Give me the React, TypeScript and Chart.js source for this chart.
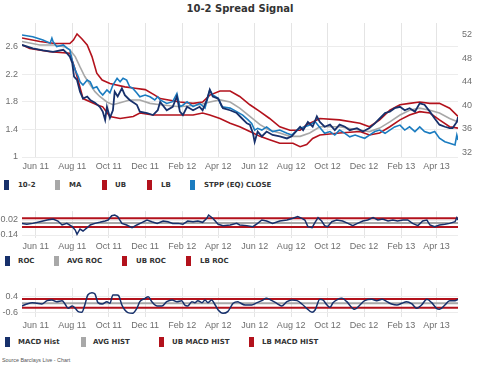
import React, { useEffect, useRef } from "react";
import { Chart, registerables } from "chart.js";
Chart.register(...registerables);

// ---------- categories / ticks (x = days since 2011-05-09) ----------
const tickDays = [23, 84, 145, 206, 268, 328, 389, 450, 511, 572, 634, 693];
const tickLabels = ["Jun 11", "Aug 11", "Oct 11", "Dec 11", "Feb 12", "Apr 12", "Jun 12", "Aug 12", "Oct 12", "Dec 12", "Feb 13", "Apr 13"];
const DAY_MIN = 0;
const DAY_MAX = 729;

// ---------- top panel ----------
const spreadDays = [0,18,35,52,69,75,80,84,87,92,97,102,109,114,122,130,135,139,142,147,152,155,160,167,172,180,192,197,209,219,227,231,242,252,259,264,269,276,286,297,302,309,314,319,328,336,348,359,368,376,381,386,389,394,401,409,419,431,443,451,460,465,470,478,486,493,498,506,515,523,531,540,548,560,570,581,590,598,607,615,623,632,640,648,657,665,673,682,690,698,707,715,720,727,729];
const spreadValues = [2.63,2.58,2.55,2.53,2.56,2.51,2.46,2.37,2.17,2.12,1.95,1.85,1.88,1.83,1.79,1.73,1.66,1.54,1.73,1.57,1.68,1.95,1.88,2.0,1.9,1.83,1.76,1.66,1.64,1.61,1.68,1.8,1.68,1.73,1.88,1.66,1.61,1.73,1.68,1.73,1.68,1.83,1.98,1.88,1.85,1.71,1.68,1.64,1.56,1.49,1.47,1.35,1.22,1.37,1.3,1.37,1.32,1.3,1.27,1.3,1.39,1.44,1.39,1.51,1.44,1.59,1.51,1.44,1.47,1.39,1.47,1.44,1.39,1.42,1.37,1.42,1.49,1.56,1.64,1.66,1.71,1.73,1.68,1.71,1.66,1.78,1.76,1.66,1.56,1.47,1.44,1.42,1.42,1.51,1.58];

const maDays = [0,30,55,72,80,89,97,105,114,122,130,142,152,164,180,197,214,231,264,297,314,331,348,364,381,398,414,431,448,465,481,498,531,565,581,598,615,632,648,665,682,698,715,729];
const maValues = [2.68,2.63,2.63,2.6,2.56,2.46,2.31,2.17,2.05,1.95,1.88,1.8,1.76,1.79,1.83,1.83,1.78,1.76,1.73,1.76,1.8,1.83,1.8,1.71,1.59,1.47,1.39,1.35,1.3,1.3,1.35,1.44,1.44,1.39,1.37,1.42,1.51,1.61,1.68,1.71,1.68,1.64,1.56,1.51];

const ubDays = [0,30,55,80,86,92,100,109,117,125,134,147,172,189,206,222,231,264,286,302,314,331,348,364,381,398,414,431,448,465,476,486,498,531,565,581,598,615,632,648,665,682,698,715,729];
const ubValues = [2.73,2.68,2.65,2.65,2.7,2.79,2.72,2.63,2.46,2.22,2.12,2.07,2.02,2.0,1.98,1.9,1.85,1.8,1.78,1.8,1.9,1.96,1.96,1.88,1.76,1.66,1.56,1.44,1.39,1.39,1.47,1.51,1.56,1.54,1.49,1.44,1.54,1.68,1.76,1.78,1.8,1.78,1.78,1.71,1.59];

const lbDays = [0,13,47,80,89,102,125,135,147,164,186,197,219,231,252,286,302,314,331,348,364,381,398,414,431,453,465,476,486,498,531,565,581,598,615,632,648,665,682,698,715,729];
const lbValues = [2.63,2.58,2.53,2.51,2.27,1.85,1.76,1.73,1.59,1.56,1.59,1.64,1.61,1.61,1.61,1.61,1.64,1.61,1.56,1.49,1.44,1.37,1.3,1.25,1.2,1.2,1.15,1.18,1.27,1.32,1.35,1.37,1.32,1.35,1.44,1.54,1.61,1.66,1.64,1.54,1.44,1.42];

const stppDays = [0,18,35,47,50,52,58,69,75,80,85,89,94,97,102,109,114,119,125,130,135,142,147,152,159,164,169,175,180,185,192,197,206,214,222,227,231,242,252,259,264,269,276,286,297,306,311,314,319,328,334,348,359,369,378,384,389,394,401,409,419,431,443,451,460,465,473,481,490,498,506,515,523,531,540,548,557,565,573,581,590,598,607,615,623,632,640,648,657,665,673,682,690,698,707,715,724,727,729];
const stppValues = [52.0,51.7,51.15,50.6,51.45,50.85,50.0,50.3,49.8,49.45,47.2,46.0,44.9,44.0,43.45,44.3,44.0,42.9,43.15,42.3,41.75,42.6,42.1,43.45,44.6,44.0,44.6,44.3,43.15,42.9,42.1,41.45,41.75,41.45,40.9,41.45,40.9,40.3,40.6,42.0,39.75,40.0,40.6,39.75,40.3,39.5,41.45,42.6,41.75,41.2,39.75,39.5,38.9,38.3,37.5,36.9,35.75,36.05,35.75,36.3,35.5,35.75,35.2,34.9,35.75,36.05,36.3,36.6,37.2,36.2,35.2,35.5,34.9,35.75,35.2,34.6,34.9,34.6,34.35,34.9,35.5,35.75,35.2,35.75,36.3,36.6,35.75,36.3,35.5,36.3,35.5,35.2,35.5,34.35,33.75,33.5,33.2,34.9,34.05];

const leftTicks = [1, 1.4, 1.8, 2.2, 2.6];
const rightTicks = [32, 36, 40, 44, 48, 52];

// ---------- middle panel (ROC) ----------
const rocDays = [0,8,18,30,42,52,60,67,75,84,89,92,97,102,109,114,122,130,139,144,150,155,160,167,175,184,192,201,209,217,226,236,244,252,261,269,277,286,294,302,309,312,319,328,336,348,359,364,376,386,394,401,409,419,431,443,453,461,468,473,478,485,490,495,501,506,511,518,526,536,545,553,561,570,578,587,595,603,612,620,628,637,645,653,662,670,677,682,690,698,707,715,724,727,729];
const rocValues = [-0.016,-0.026,-0.016,0.002,0.02,0.031,0.009,-0.033,-0.016,-0.051,-0.087,-0.133,-0.076,-0.097,-0.062,-0.033,-0.016,-0.005,0.009,0.02,0.066,0.073,0.056,-0.016,-0.033,-0.062,-0.033,-0.005,0.02,0.002,-0.016,0.009,0.002,-0.016,-0.016,-0.026,0.009,0.002,0.009,-0.005,0.038,0.073,0.038,-0.026,-0.04,-0.033,-0.016,-0.033,-0.04,-0.051,-0.016,0.02,0.009,-0.016,0.009,0.02,0.038,0.056,0.038,0.02,-0.051,-0.062,-0.005,0.045,0.009,-0.04,-0.051,0.002,0.02,0.009,-0.016,-0.04,-0.016,0.009,0.02,0.045,0.02,0.031,0.009,0.02,0.009,0.02,0.02,-0.016,-0.04,0.009,0.02,-0.033,-0.051,-0.033,-0.026,-0.016,0.002,0.045,0.02];
const bandDays = [0, 729];
const avgRocValues = [-0.012, -0.012];
const ubRocValues = [0.04, 0.04];
const lbRocValues = [-0.055, -0.055];
const rocTicks = [-0.14, 0.02];

// ---------- bottom panel (MACD hist) ----------
const macdDays = [0,8,17,25,33,42,50,58,67,72,77,84,89,94,100,105,110,117,122,127,134,142,147,152,159,162,167,172,177,185,192,197,206,211,217,226,234,242,251,259,267,272,277,284,289,294,301,306,311,317,323,328,336,344,353,361,364,373,384,393,401,409,418,426,434,443,451,460,468,476,485,490,498,503,510,515,520,528,535,543,551,556,565,573,585,593,602,610,618,627,635,643,652,660,668,677,685,693,698,707,715,724,729];
const macdValues = [-0.195,-0.067,0.018,-0.024,-0.067,0.146,0.189,0.082,0.146,-0.067,-0.345,-0.195,-0.345,-0.558,-0.6,-0.131,0.509,0.658,0.573,0.018,-0.067,0.082,-0.024,0.509,0.509,0.445,-0.131,-0.451,-0.622,-0.664,-0.345,0.082,0.296,0.402,0.082,-0.195,-0.195,0.082,0.189,0.082,0.146,-0.131,-0.195,0.082,0.018,0.146,0.018,0.189,0.018,0.189,-0.131,-0.451,-0.664,-0.558,-0.024,0.082,0.018,-0.131,-0.131,0.018,0.146,0.296,0.146,-0.024,-0.195,0.082,0.189,0.146,-0.067,-0.345,-0.6,-0.451,0.232,0.189,-0.131,-0.28,0.018,0.232,0.296,0.082,-0.28,-0.409,-0.131,0.146,0.232,0.146,0.232,0.082,-0.067,-0.131,-0.024,0.082,-0.067,-0.345,-0.131,0.232,0.018,-0.345,-0.409,-0.131,0.146,0.146,0.232];
const avgHistValues = [-0.022, -0.022];
const ubHistValues = [0.253, 0.253];
const lbHistValues = [-0.304, -0.304];
const macdTicks = [-0.6, 0.4];

// ---------- styles ----------
const NAVY = "#17306b";
const GRAY = "#a8a8a8";
const RED = "#b3121c";
const BLUE = "#1b7cc0";
const TICK_FONT = { family: "'Liberation Sans', Arial, sans-serif", size: 9 };
const TICK_COLOR = "#6e6e6e";
const GRID = "#e4e4e4";
const LEGEND_FONT = "'DejaVu Sans', Verdana, sans-serif";

function pts(days: number[], vals: number[]) {
  const n = Math.min(days.length, vals.length);
  const out: { x: number; y: number }[] = [];
  for (let i = 0; i < n; i++) out.push({ x: days[i], y: vals[i] });
  return out;
}

function line(label: string, data: any, color: string, width: number, order: number, extra: any = {}) {
  return {
    label,
    data,
    borderColor: color,
    backgroundColor: color,
    borderWidth: width,
    pointRadius: 0,
    pointHoverRadius: 0,
    tension: 0,
    fill: false,
    order,
    ...extra,
  };
}

function xAxis(height: number, pad: number) {
  return {
    type: "linear",
    min: DAY_MIN,
    max: DAY_MAX,
    afterBuildTicks: (s: any) => {
      s.ticks = tickDays.map((v) => ({ value: v }));
    },
    afterFit: (s: any) => {
      s.height = height;
      s.paddingLeft = 0;
      s.paddingRight = 0;
    },
    ticks: {
      autoSkip: false,
      maxRotation: 0,
      minRotation: 0,
      padding: pad,
      font: TICK_FONT,
      color: TICK_COLOR,
      callback: (_v: any, i: number) => tickLabels[i],
    },
    grid: { color: GRID, drawTicks: false, lineWidth: 1 },
    border: { display: false },
  };
}

function yAxis(position: string, min: number, max: number, ticks: number[], width: number, showGrid: boolean) {
  return {
    type: "linear",
    position,
    min,
    max,
    afterBuildTicks: (s: any) => {
      s.ticks = ticks.map((v) => ({ value: v }));
    },
    afterFit: (s: any) => {
      s.width = width;
      s.paddingTop = 0;
      s.paddingBottom = 0;
    },
    ticks: {
      padding: 4,
      font: TICK_FONT,
      color: TICK_COLOR,
      callback: (v: any) => String(v),
    },
    grid: { display: showGrid, color: "#ececec", drawTicks: false },
    border: { display: false },
  };
}

function baseOptions(scales: any, padRight: number) {
  return {
    responsive: false,
    maintainAspectRatio: false,
    animation: false,
    devicePixelRatio: 1,
    events: [],
    layout: { padding: { left: 0, top: 0, bottom: 0, right: padRight } },
    plugins: { legend: { display: false }, tooltip: { enabled: false }, title: { display: false } },
    scales,
  };
}

function topConfig() {
  return {
    type: "line",
    data: {
      datasets: [
        line("10-2", pts(spreadDays, spreadValues), NAVY, 1.8, 1, { yAxisID: "y" }),
        line("STPP (EQ) CLOSE", pts(stppDays, stppValues), BLUE, 1.6, 2, { yAxisID: "y2" }),
        line("MA", pts(maDays, maValues), GRAY, 1.6, 3, { yAxisID: "y" }),
        line("UB", pts(ubDays, ubValues), RED, 1.6, 4, { yAxisID: "y" }),
        line("LB", pts(lbDays, lbValues), RED, 1.6, 5, { yAxisID: "y" }),
      ],
    },
    options: baseOptions(
      {
        x: xAxis(15, 4),
        y: yAxis("left", 1, 2.949, leftTicks, 22, true),
        y2: yAxis("right", 31.15, 54.05, rightTicks, 22, false),
      },
      0
    ),
  };
}

function rocConfig() {
  return {
    type: "line",
    data: {
      datasets: [
        line("ROC", pts(rocDays, rocValues), NAVY, 1.5, 1),
        line("AVG ROC", pts(bandDays, avgRocValues), GRAY, 2, 2),
        line("UB ROC", pts(bandDays, ubRocValues), RED, 2, 3),
        line("LB ROC", pts(bandDays, lbRocValues), RED, 2, 4),
      ],
    },
    options: baseOptions({ x: xAxis(14, 3), y: yAxis("left", -0.172, 0.116, rocTicks, 22, true) }, 22),
  };
}

function macdConfig() {
  return {
    type: "line",
    data: {
      datasets: [
        line("MACD Hist", pts(macdDays, macdValues), NAVY, 1.5, 1, { tension: 0.4, cubicInterpolationMode: "monotone" }),
        line("AVG HIST", pts(bandDays, avgHistValues), GRAY, 2, 2),
        line("UB MACD HIST", pts(bandDays, ubHistValues), RED, 2, 3),
        line("LB MACD HIST", pts(bandDays, lbHistValues), RED, 2, 4),
      ],
    },
    options: baseOptions({ x: xAxis(14, 3), y: yAxis("left", -0.901, 0.958, macdTicks, 22, true) }, 22),
  };
}

function ChartCanvas({ top, height, config }: { top: number; height: number; config: () => any }) {
  const ref = useRef<HTMLCanvasElement | null>(null);
  useEffect(() => {
    if (!ref.current) return;
    const chart = new Chart(ref.current, config());
    return () => chart.destroy();
  }, []);
  return (
    <canvas
      ref={ref}
      width={480}
      height={height}
      style={{ position: "absolute", left: 0, top, width: 480, height, display: "block" }}
    />
  );
}

type LegendItem = { label: string; color: string; marker: number; text: number };

const legendRows: { top: number; items: LegendItem[] }[] = [
  {
    top: 185,
    items: [
      { label: "10-2", color: NAVY, marker: 4, text: 18 },
      { label: "MA", color: GRAY, marker: 55, text: 69 },
      { label: "UB", color: RED, marker: 102, text: 115 },
      { label: "LB", color: RED, marker: 147, text: 161 },
      { label: "STPP (EQ) CLOSE", color: BLUE, marker: 190, text: 204 },
    ],
  },
  {
    top: 261,
    items: [
      { label: "ROC", color: NAVY, marker: 5, text: 18 },
      { label: "AVG ROC", color: GRAY, marker: 54, text: 67 },
      { label: "UB ROC", color: RED, marker: 122, text: 136 },
      { label: "LB ROC", color: RED, marker: 186, text: 200 },
    ],
  },
  {
    top: 342,
    items: [
      { label: "MACD Hist", color: NAVY, marker: 5, text: 18 },
      { label: "AVG HIST", color: GRAY, marker: 81, text: 93 },
      { label: "UB MACD HIST", color: RED, marker: 159, text: 172 },
      { label: "LB MACD HIST", color: RED, marker: 249, text: 262 },
    ],
  },
];

export default function App() {
  return (
    <div style={{ position: "absolute", left: 0, top: 0, width: 480, height: 368, background: "#fff", overflow: "hidden" }}>
      <div
        style={{
          position: "absolute",
          left: 0,
          top: 2,
          width: 480,
          textAlign: "center",
          fontFamily: LEGEND_FONT,
          fontWeight: "bold",
          fontSize: 10,
          lineHeight: "14px",
          color: "#333",
        }}
      >
        10-2 Spread Signal
      </div>
      <ChartCanvas top={23} height={149} config={topConfig} />
      <ChartCanvas top={211} height={41} config={rocConfig} />
      <ChartCanvas top={288} height={43} config={macdConfig} />
      {legendRows.map((row, r) =>
        row.items.map((it, i) => (
          <React.Fragment key={r + "-" + i}>
            <div
              style={{
                position: "absolute",
                left: it.marker,
                top: row.top - 5,
                width: 5,
                height: 10,
                background: it.color,
              }}
            />
            <div
              style={{
                position: "absolute",
                left: it.text,
                top: row.top - 6,
                fontFamily: LEGEND_FONT,
                fontWeight: "bold",
                fontSize: 7,
                lineHeight: "12px",
                color: "#333",
                whiteSpace: "nowrap",
              }}
            >
              {it.label}
            </div>
          </React.Fragment>
        ))
      )}
      <div
        style={{
          position: "absolute",
          left: 2,
          top: 357,
          fontFamily: "'Liberation Sans', Arial, sans-serif",
          fontSize: 8,
          lineHeight: "10px",
          color: "#555",
          whiteSpace: "nowrap",
          transform: "scale(0.67)",
          transformOrigin: "0 0",
        }}
      >
        Source Barclays Live - Chart
      </div>
    </div>
  );
}
